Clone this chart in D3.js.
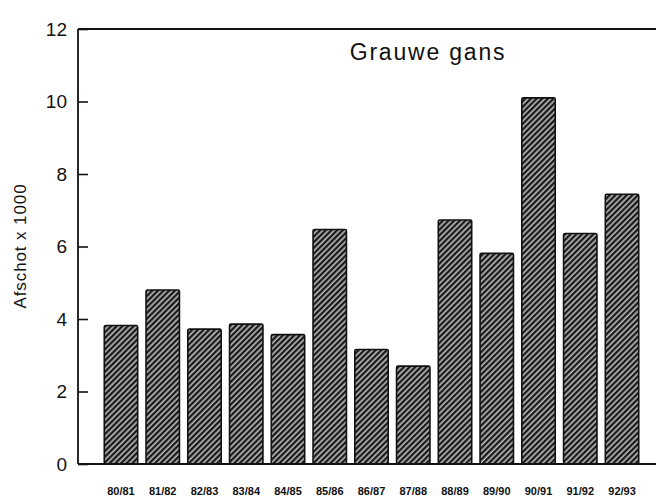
<!DOCTYPE html>
<html>
<head>
<meta charset="utf-8">
<script src="https://cdn.jsdelivr.net/npm/d3@7"></script>
<style>
  html, body { margin: 0; padding: 0; background: #fff; }
  svg { display: block; }
  text { font-family: "Liberation Sans", Arial, Helvetica, sans-serif; fill: #111; }
</style>
</head>
<body>
<svg id="chart" width="656" height="497"></svg>
<script>
const seasons = ["80/81","81/82","82/83","83/84","84/85","85/86","86/87","87/88","88/89","89/90","90/91","91/92","92/93"];
const afschot = [3.82, 4.80, 3.72, 3.86, 3.57, 6.47, 3.16, 2.70, 6.73, 5.81, 10.10, 6.36, 7.44];
const yTicks = [0, 2, 4, 6, 8, 10, 12];
const title = "Grauwe gans";
const yLabel = "Afschot x 1000";

const svg = d3.select("#chart");
const mLeft = 78, mRight = 656, mTop = 29, mBottom = 464;

const x = d3.scaleBand().domain(seasons).range([100.1, 642.9]).paddingInner(0.2).paddingOuter(0.1);
const y = d3.scaleLinear().domain([0, 12]).range([mBottom, mTop]);

// hatch pattern
const defs = svg.append("defs");
const pat = defs.append("pattern")
  .attr("id", "hatch").attr("patternUnits", "userSpaceOnUse")
  .attr("width", 4).attr("height", 4)
  .attr("patternTransform", "rotate(45)");
pat.append("rect").attr("width", 4).attr("height", 4).attr("fill", "#bdbdbd");
pat.append("rect").attr("x", 0).attr("y", 0).attr("width", 2.4).attr("height", 4).attr("fill", "#1a1a1a");

// bars
svg.append("g").selectAll("rect").data(afschot).join("rect")
  .attr("x", (d, i) => x(seasons[i]))
  .attr("y", d => y(d))
  .attr("width", x.bandwidth())
  .attr("height", d => y(0) - y(d))
  .attr("rx", 1.5)
  .attr("fill", "url(#hatch)")
  .attr("stroke", "#111")
  .attr("stroke-width", 1.6);

// y axis
const yAxis = d3.axisRight(y).tickValues(yTicks).tickSize(10).tickFormat(d3.format("d"));
const gy = svg.append("g").attr("transform", `translate(${mLeft},0)`).call(yAxis);
gy.select(".domain").remove();
gy.selectAll(".tick line").attr("stroke", "#111").attr("stroke-width", 1.6);
gy.selectAll(".tick text")
  .attr("x", -11).attr("text-anchor", "end")
  .attr("font-size", 19).attr("fill", "#111")
  .style("font-family", "'Liberation Sans', Arial, sans-serif");

// frame lines
svg.append("line").attr("x1", mLeft).attr("x2", mLeft).attr("y1", mTop).attr("y2", mBottom)
  .attr("stroke", "#111").attr("stroke-width", 1.8);
svg.append("line").attr("x1", mLeft).attr("x2", mRight).attr("y1", mTop).attr("y2", mTop)
  .attr("stroke", "#111").attr("stroke-width", 1.8);
svg.append("line").attr("x1", mLeft).attr("x2", mRight).attr("y1", mBottom).attr("y2", mBottom)
  .attr("stroke", "#111").attr("stroke-width", 1.8);

// x axis labels
const xAxis = d3.axisBottom(x).tickSize(0).tickPadding(0);
const gx = svg.append("g").attr("transform", `translate(0,${mBottom})`).call(xAxis);
gx.select(".domain").remove();
gx.selectAll(".tick text")
  .attr("y", 31).attr("dy", 0)
  .attr("font-size", 11).attr("font-weight", "bold").attr("fill", "#222")
  .style("font-family", "'Liberation Sans', Arial, sans-serif");

// title
svg.append("text").attr("x", 428).attr("y", 60)
  .attr("text-anchor", "middle").attr("font-size", 23)
  .attr("letter-spacing", 1.8)
  .text(title);

// y label
svg.append("text")
  .attr("transform", `translate(26,246) rotate(-90)`)
  .attr("text-anchor", "middle").attr("font-size", 17)
  .attr("letter-spacing", 0.9)
  .text(yLabel);
</script>
</body>
</html>
